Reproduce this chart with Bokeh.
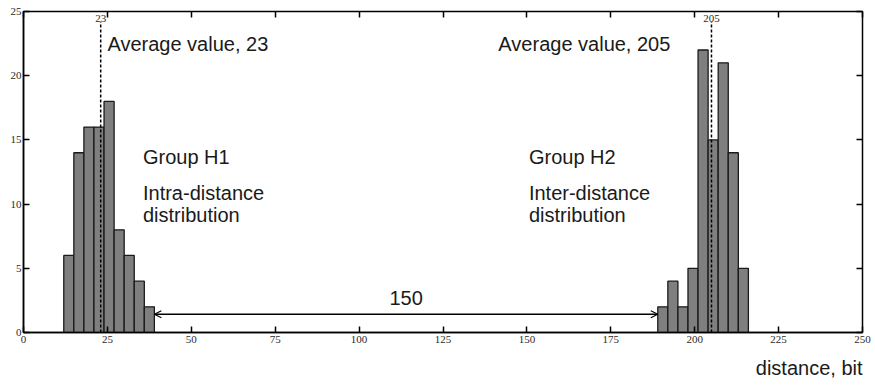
from bokeh.plotting import figure
from bokeh.models import (Range1d, FixedTicker, LinearAxis, Label, Arrow, OpenHead,
                          ColumnDataSource, Title)
from bokeh.embed import file_html
from bokeh.resources import INLINE

# ---- data ----
bin_width = 3
h1_left = [12, 15, 18, 21, 24, 27, 30, 33, 36]
h1_counts = [6, 14, 16, 16, 18, 8, 6, 4, 2]
h2_left = [189, 192, 195, 198, 201, 204, 207, 210, 213]
h2_counts = [2, 4, 2, 5, 22, 15, 21, 14, 5]
means = [23, 205]
mean_labels = ["23", "205"]
x_ticks = [0, 25, 50, 75, 100, 125, 150, 175, 200, 225, 250]
y_ticks = [0, 5, 10, 15, 20, 25]
gap_start = h1_left[-1] + bin_width
gap_end = h2_left[0]

W, H = 875, 387
p = figure(width=W, height=H, output_backend="svg", toolbar_location=None,
           x_range=Range1d(0, 250), y_range=Range1d(0, 25),
           min_border_left=23, min_border_right=13, min_border_top=11, min_border_bottom=55)
p.xgrid.visible = False
p.ygrid.visible = False
p.background_fill_color = "white"
p.border_fill_color = "white"
p.outline_line_color = "black"
p.outline_line_width = 1.5

tick_font = "Liberation Serif"
for ax in (p.xaxis[0], p.yaxis[0]):
    ax.major_tick_in = 6
    ax.major_tick_out = 0
    ax.minor_tick_line_color = None
    ax.axis_line_color = "black"
    ax.axis_line_width = 1.5
    ax.major_tick_line_width = 1.5
    ax.major_label_text_font = tick_font
    ax.major_label_text_font_size = "11px"
    ax.major_label_text_color = "#2a2a2a"
p.xaxis[0].ticker = FixedTicker(ticks=x_ticks)
p.yaxis[0].ticker = FixedTicker(ticks=y_ticks)
p.xaxis[0].major_label_standoff = 3
p.yaxis[0].major_label_standoff = 2

top_ax = LinearAxis(ticker=FixedTicker(ticks=x_ticks),
                    major_label_overrides={t: "" for t in x_ticks},
                    major_label_standoff=0, major_tick_in=6, major_tick_out=0,
                    major_tick_line_width=1.5, minor_tick_line_color=None, axis_line_color=None)
right_ax = LinearAxis(ticker=FixedTicker(ticks=y_ticks),
                      major_label_overrides={t: "" for t in y_ticks},
                      major_label_standoff=0, major_tick_in=6, major_tick_out=0,
                      major_tick_line_width=1.5, minor_tick_line_color=None, axis_line_color=None)
p.add_layout(top_ax, "above")
p.add_layout(right_ax, "right")

# ---- histogram bars ----
for lefts, counts in ((h1_left, h1_counts), (h2_left, h2_counts)):
    src = ColumnDataSource(dict(left=lefts, right=[l + bin_width for l in lefts],
                                top=counts, bottom=[0] * len(counts)))
    p.quad(left="left", right="right", top="top", bottom="bottom", source=src,
           fill_color="#7f7f7f", line_color="#1a1a1a", line_width=1.3)

# ---- mean lines ----
p.segment(x0=means, y0=[0, 0], x1=means, y1=[24.2, 24.2],
          line_color="black", line_width=1.5, line_dash="3 2")
for m, t in zip(means, mean_labels):
    p.add_layout(Label(x=m, y=24.45, text=t, text_font=tick_font, text_font_size="11px",
                       text_align="center", text_baseline="middle", text_color="#2a2a2a"))

txt_font = "Liberation Sans"
txt_size = "20px"
txt_color = "#1a1a1a"

def lab(x, y, t, align="left"):
    p.add_layout(Label(x=x, y=y, text=t, text_font=txt_font, text_font_size=txt_size,
                       text_align=align, text_baseline="middle", text_color=txt_color))

lab(25, 22.5, "Average value, %d" % means[0])
lab(141.5, 22.5, "Average value, %d" % means[1])
lab(35.6, 13.67, "Group H1")
lab(35.6, 10.86, "Intra-distance")
lab(35.6, 9.15, "distribution")
lab(150.6, 13.67, "Group H2")
lab(150.6, 10.86, "Inter-distance")
lab(150.6, 9.15, "distribution")
lab((gap_start + gap_end) / 2, 2.7, str(gap_end - gap_start), align="center")

# ---- gap arrow ----
p.add_layout(Arrow(x_start=gap_start, y_start=1.42, x_end=gap_end, y_end=1.42,
                   start=OpenHead(size=7, line_width=1.2, line_color="black"),
                   end=OpenHead(size=7, line_width=1.2, line_color="black"),
                   line_color="black", line_width=1.3))

# ---- axis title (below, right-aligned) ----
p.add_layout(Title(text="distance, bit", align="right", text_font=txt_font,
                   text_font_size=txt_size, text_font_style="normal",
                   text_color=txt_color, standoff=18, offset=0), "below")

open("out.html", "w").write(file_html(p, INLINE))
